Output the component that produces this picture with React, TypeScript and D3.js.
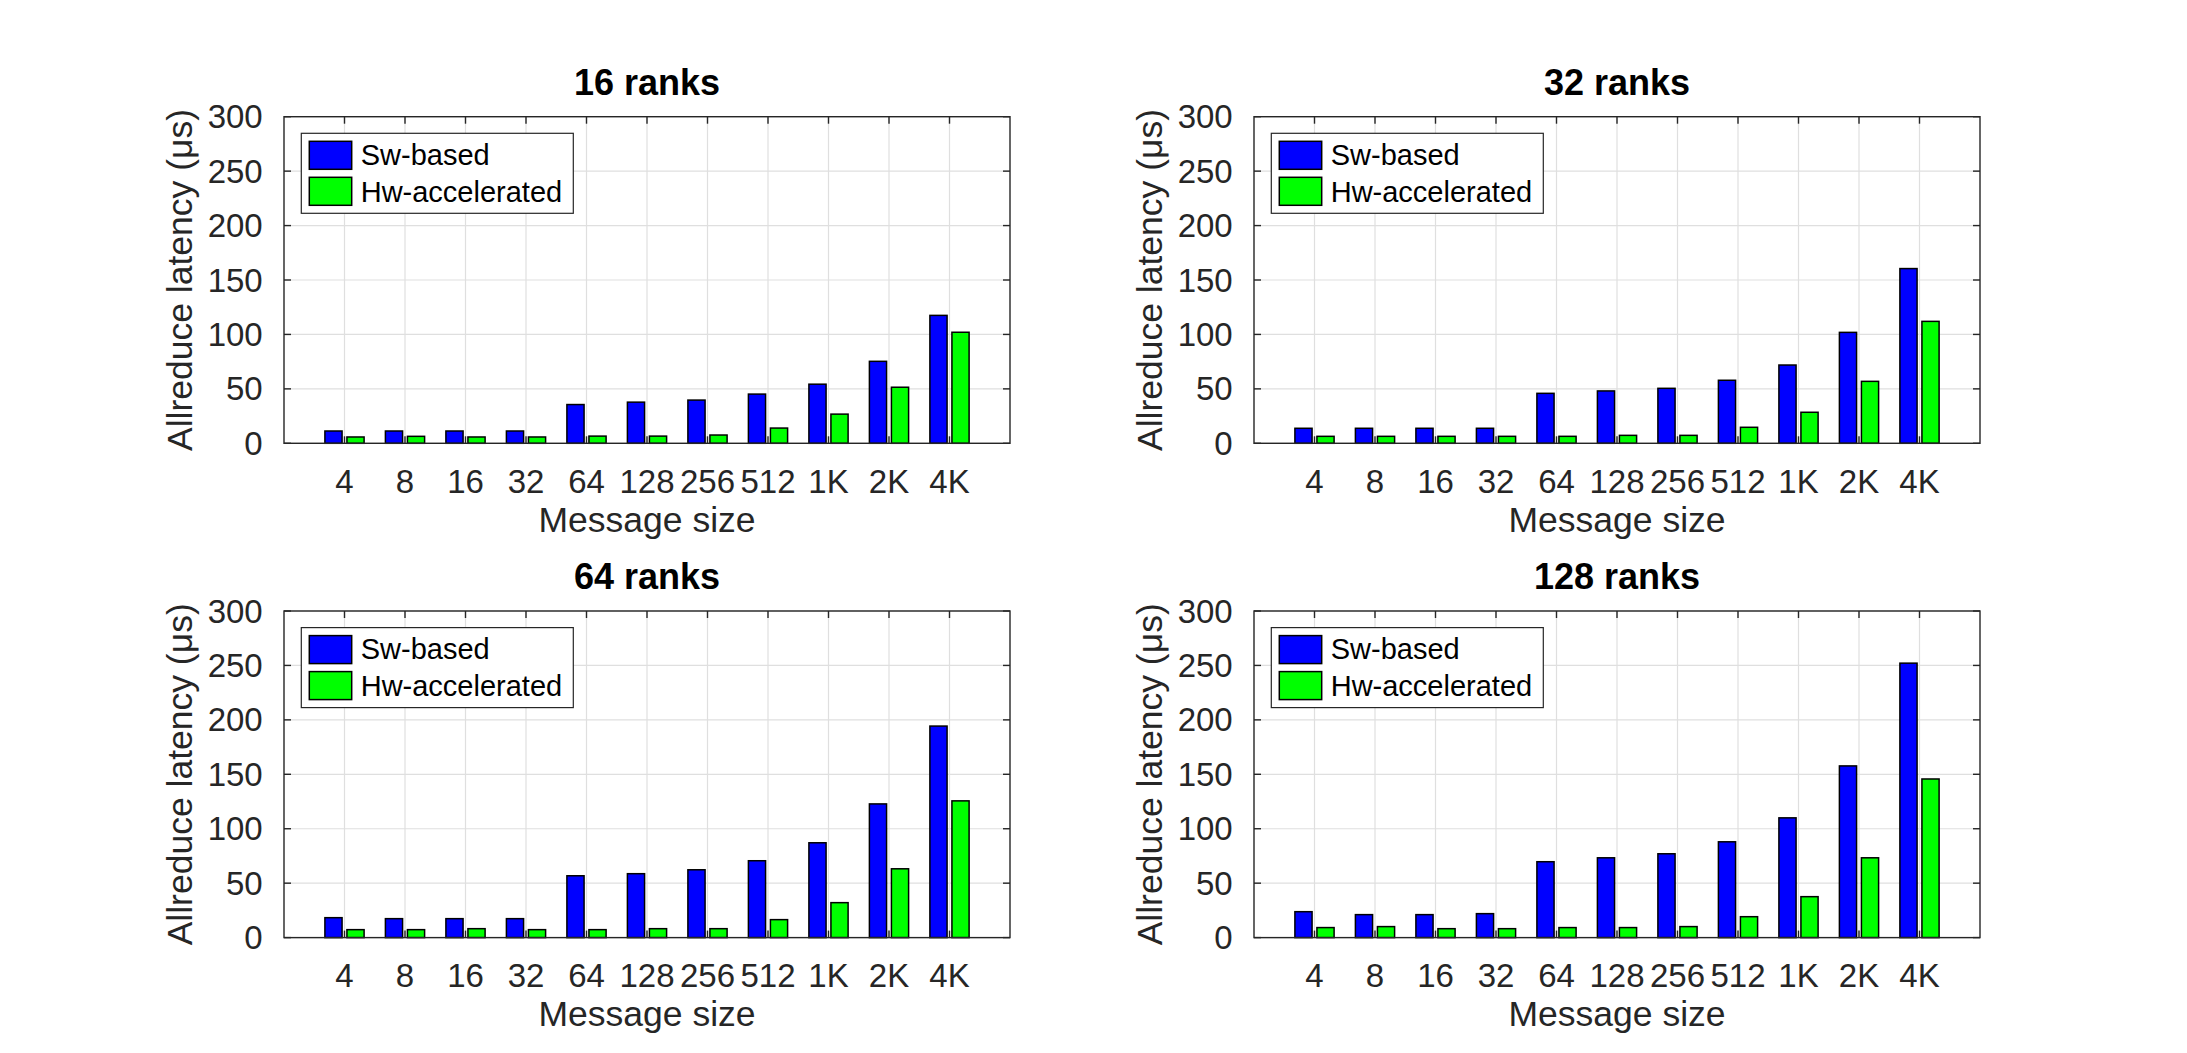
import React from 'react';
import * as d3 from 'd3';

// Message sizes on the x axis
const messageSizes = ['4', '8', '16', '32', '64', '128', '256', '512', '1K', '2K', '4K'];
const seriesNames = ['Sw-based', 'Hw-accelerated'];
const panelTitles = ['16 ranks', '32 ranks', '64 ranks', '128 ranks'];
const yTicks = [0, 50, 100, 150, 200, 250, 300];

// Allreduce latency (us)
const sw16 = [11.3, 11.3, 11.3, 11.3, 35.6, 37.8, 39.7, 45.2, 54.3, 75.3, 117.5];
const hw16 = [5.8, 6.4, 5.8, 5.8, 6.6, 6.6, 7.6, 14.0, 26.8, 51.5, 102.0];
const sw32 = [13.8, 13.8, 13.8, 13.8, 45.9, 48.1, 50.5, 57.9, 71.9, 101.9, 160.5];
const hw32 = [6.4, 6.4, 6.4, 6.4, 6.4, 7.3, 7.3, 14.7, 28.5, 56.9, 112.0];
const sw64 = [18.3, 17.4, 17.4, 17.4, 56.8, 58.7, 62.3, 70.6, 87.1, 122.8, 194.3];
const hw64 = [7.3, 7.3, 8.2, 7.3, 7.3, 8.2, 8.2, 16.5, 32.1, 63.2, 125.6];
const sw128 = [23.8, 21.1, 21.1, 22.0, 69.7, 73.3, 77.0, 88.0, 110.0, 157.7, 252.1];
const hw128 = [9.2, 10.1, 8.2, 8.2, 9.2, 9.2, 10.1, 19.2, 37.6, 73.3, 145.7];

const panelData = [
  [sw16, hw16],
  [sw32, hw32],
  [sw64, hw64],
  [sw128, hw128],
];

const W = 2187;
const H = 1053;
const FONT = '"Liberation Sans", Arial, Helvetica, sans-serif';
const AXIS_COLOR = '#262626';
const GRID_COLOR = '#dfdfdf';
const colors = ['#0000ff', '#00ff00'];

const panelPos = [
  { left: 284, top: 116.7 },
  { left: 1254, top: 116.7 },
  { left: 284, top: 611 },
  { left: 1254, top: 611 },
];
const PW = 726;
const PH = 326.6;
const TICK = 7;

interface PanelProps {
  left: number;
  top: number;
  title: string;
  series: number[][];
}

const Panel: React.FC<PanelProps> = ({ left, top, title, series }) => {
  const right = left + PW;
  const bottom = top + PH;

  // xlim is [0, 12], categories sit at 1..11
  const xLin = d3.scaleLinear().domain([0, messageSizes.length + 1]).range([left, right]);
  const xBand = d3
    .scaleBand<string>()
    .domain(messageSizes)
    .range([xLin(0.5), xLin(messageSizes.length + 0.5)])
    .padding(0);
  const xInner = d3
    .scaleBand<string>()
    .domain(seriesNames)
    .range([0, xBand.bandwidth()])
    .paddingInner(0.22)
    .paddingOuter(0.4835);
  const y = d3.scaleLinear().domain([0, 300]).range([bottom, top]);

  const center = (c: string) => (xBand(c) ?? 0) + xBand.bandwidth() / 2;

  const legX = left + 17.3;
  const legY = top + 16.6;

  return (
    <g>
      {/* grid */}
      {yTicks.map((t) => (
        <line key={'gy' + t} x1={left} x2={right} y1={y(t)} y2={y(t)} stroke={GRID_COLOR} strokeWidth={1.2} />
      ))}
      {messageSizes.map((c) => (
        <line key={'gx' + c} x1={center(c)} x2={center(c)} y1={top} y2={bottom} stroke={GRID_COLOR} strokeWidth={1.2} />
      ))}

      {/* bars */}
      {series.map((vals, si) =>
        vals.map((v, i) => {
          const c = messageSizes[i];
          const x0 = (xBand(c) ?? 0) + (xInner(seriesNames[si]) ?? 0);
          return (
            <rect
              key={`b${si}-${i}`}
              x={x0}
              y={y(v)}
              width={xInner.bandwidth()}
              height={y(0) - y(v)}
              fill={colors[si]}
              stroke="#000"
              strokeWidth={1.5}
            />
          );
        })
      )}

      {/* axes box + inward ticks */}
      <rect x={left} y={top} width={PW} height={PH} fill="none" stroke={AXIS_COLOR} strokeWidth={1.4} />
      {yTicks.map((t) => (
        <g key={'ty' + t}>
          <line x1={left} x2={left + TICK} y1={y(t)} y2={y(t)} stroke={AXIS_COLOR} strokeWidth={1.4} />
          <line x1={right} x2={right - TICK} y1={y(t)} y2={y(t)} stroke={AXIS_COLOR} strokeWidth={1.4} />
          <text
            x={left - 21.3}
            y={y(t)}
            dy="0.35em"
            textAnchor="end"
            fontSize={33}
            fill={AXIS_COLOR}
            fontFamily={FONT}
          >
            {t}
          </text>
        </g>
      ))}
      {messageSizes.map((c) => (
        <g key={'tx' + c}>
          <line x1={center(c)} x2={center(c)} y1={top} y2={top + TICK} stroke={AXIS_COLOR} strokeWidth={1.4} />
          <line x1={center(c)} x2={center(c)} y1={bottom} y2={bottom - TICK} stroke={AXIS_COLOR} strokeWidth={1.4} />
          <text
            x={center(c)}
            y={bottom + 49.4}
            textAnchor="middle"
            fontSize={33}
            fill={AXIS_COLOR}
            fontFamily={FONT}
          >
            {c}
          </text>
        </g>
      ))}

      {/* axis labels */}
      <text
        x={(left + right) / 2}
        y={bottom + 88.4}
        textAnchor="middle"
        fontSize={35.5}
        fill={AXIS_COLOR}
        fontFamily={FONT}
      >
        Message size
      </text>
      <text
        transform={`translate(${left - 92.3},${(top + bottom) / 2}) rotate(-90)`}
        textAnchor="middle"
        fontSize={35.5}
        fill={AXIS_COLOR}
        fontFamily={FONT}
      >
        Allreduce latency (μs)
      </text>

      {/* title */}
      <text
        x={(left + right) / 2}
        y={top - 21.7}
        textAnchor="middle"
        fontSize={36}
        fontWeight="bold"
        fill="#000"
        fontFamily={FONT}
      >
        {title}
      </text>

      {/* legend */}
      <rect x={legX} y={legY} width={272} height={80} fill="#fff" stroke={AXIS_COLOR} strokeWidth={1.2} />
      {seriesNames.map((name, si) => (
        <g key={'lg' + name}>
          <rect
            x={legX + 8}
            y={legY + 8 + si * 36}
            width={42.4}
            height={28}
            fill={colors[si]}
            stroke="#000"
            strokeWidth={1.5}
          />
          <text x={legX + 59.4} y={legY + 31.7 + si * 37} fontSize={29} fill="#000" fontFamily={FONT}>
            {name}
          </text>
        </g>
      ))}
    </g>
  );
};

const App: React.FC = () => {
  return (
    <svg
      width={W}
      height={H}
      viewBox={`0 0 ${W} ${H}`}
      style={{ position: 'absolute', left: 0, top: 0, background: '#fff' }}
    >
      <rect x={0} y={0} width={W} height={H} fill="#fff" />
      {panelPos.map((p, i) => (
        <Panel key={panelTitles[i]} left={p.left} top={p.top} title={panelTitles[i]} series={panelData[i]} />
      ))}
    </svg>
  );
};

export default App;
